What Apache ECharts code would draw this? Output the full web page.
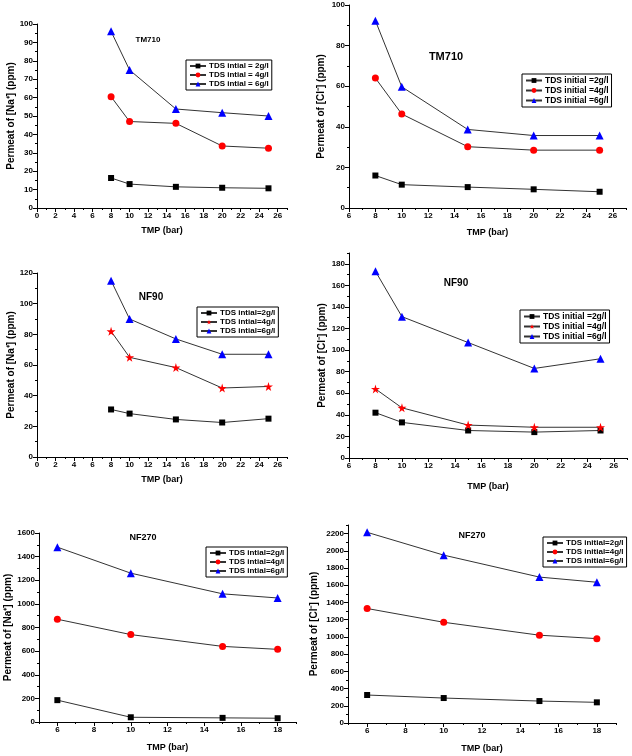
<!DOCTYPE html>
<html><head><meta charset="utf-8">
<script src="https://cdn.jsdelivr.net/npm/echarts@6/dist/echarts.min.js"></script>
<style>html,body{margin:0;padding:0;background:#fff}#c{width:632px;height:756px}</style>
</head><body><div id="c"></div>
<script>
// ---- data ----
const tmpA = [8, 10, 15, 20, 25];
const tmpB = [6, 10, 15, 18];

const tm710Na2 = [16.3, 13, 11.5, 11, 10.7];
const tm710Na4 = [60.5, 47, 46, 33.7, 32.5];
const tm710Na6 = [96, 75, 53.8, 51.8, 50];

const tm710Cl2 = [16, 11.5, 10.3, 9.2, 8];
const tm710Cl4 = [64, 46.3, 30.2, 28.5, 28.5];
const tm710Cl6 = [92.3, 59.7, 38.7, 35.7, 35.7];

const nf90Na2 = [31, 28.3, 24.5, 22.5, 25];
const nf90Na4 = [82, 65, 58.3, 45, 46];
const nf90Na6 = [115, 90, 77, 67, 67];

const nf90Cl2 = [42, 33, 25.5, 24, 25.5];
const nf90Cl4 = [64, 46.5, 30.5, 28.5, 28.5];
const nf90Cl6 = [173, 131, 107, 83, 92];

const nf270Na2 = [185, 40, 35, 32];
const nf270Na4 = [870, 740, 640, 615];
const nf270Na6 = [1480, 1260, 1085, 1050];

const nf270Cl2 = [325, 290, 255, 240];
const nf270Cl4 = [1330, 1170, 1020, 980];
const nf270Cl6 = [2215, 1950, 1695, 1635];

const legendA = ['TDS intial = 2g/l', 'TDS intial = 4g/l', 'TDS intial = 6g/l'];
const legendB = ['TDS initial =2g/l', 'TDS initial =4g/l', 'TDS initial =6g/l'];
const legendC = ['TDS intial=2g/l', 'TDS intial=4g/l', 'TDS intial=6g/l'];
const legendD = ['TDS initial =2g/l', 'TDS initial =4g/l', 'TDS initial =6g/l'];
const legendE = ['TDS intial=2g/l', 'TDS intial=4g/l', 'TDS intial=6g/l'];
const legendF = ['TDS initial=2g/l', 'TDS initial=4g/l', 'TDS initial=6g/l'];

const xTicksA = [0, 2, 4, 6, 8, 10, 12, 14, 16, 18, 20, 22, 24, 26];
const xTicksB = [6, 8, 10, 12, 14, 16, 18, 20, 22, 24, 26];
const xTicksC = [6, 8, 10, 12, 14, 16, 18];
const yTicks1 = [0, 10, 20, 30, 40, 50, 60, 70, 80, 90, 100];
const yTicks2 = [0, 20, 40, 60, 80, 100];
const yTicks3 = [0, 20, 40, 60, 80, 100, 120];
const yTicks4 = [0, 20, 40, 60, 80, 100, 120, 140, 160, 180];
const yTicks5 = [0, 200, 400, 600, 800, 1000, 1200, 1400, 1600];
const yTicks6 = [0, 200, 400, 600, 800, 1000, 1200, 1400, 1600, 1800, 2000, 2200];

const titles = ['TM710', 'TM710', 'NF90', 'NF90', 'NF270', 'NF270'];
const yNameNa = 'Permeat of [Na\u207A] (ppm)';
const yNameCl = 'Permeat of [Cl\u207B] (ppm)';
const xName = 'TMP (bar)';

// ---- layout ----
const FONT = 'Liberation Sans, Arial, sans-serif';
const STAR = 'path://M50,0 L61,35 L98,35 L68,57 L79,91 L50,70 L21,91 L32,57 L2,35 L39,35 Z';
function minors(ticks, step, max) {
  const out = [];
  for (let i = 0; i < ticks.length; i++) { const v = ticks[i] + step; if (v <= max) out.push(v); }
  return out;
}

const panels = [
  { grid: {left: 37, top: 24, width: 250, height: 184}, x: [0, 27], xt: xTicksA, xs: 1, y: [0, 100], yt: yTicks1, ys: 5,
    xs0: tmpA, sets: [tm710Na2, tm710Na4, tm710Na6], names: legendA, red: 'circle', yName: yNameNa, yGap: 21, xGap: 18,
    legend: {left: 186, top: 60, fs: 8}, title: {x: 148, y: 40, size: 8} },
  { grid: {left: 349, top: 5, width: 277, height: 203}, x: [6, 27], xt: xTicksB, xs: 1, y: [0, 100], yt: yTicks2, ys: 10,
    xs0: tmpA, sets: [tm710Cl2, tm710Cl4, tm710Cl6], names: legendB, red: 'circle', yName: yNameCl, yGap: 23, xGap: 20,
    legend: {left: 522, top: 74, fs: 8.5}, title: {x: 446, y: 57, size: 11} },
  { grid: {left: 37, top: 273, width: 250, height: 184}, x: [0, 27], xt: xTicksA, xs: 1, y: [0, 120], yt: yTicks3, ys: 10,
    xs0: tmpA, sets: [nf90Na2, nf90Na4, nf90Na6], names: legendC, red: STAR, yName: yNameNa, yGap: 20, xGap: 18,
    legend: {left: 197, top: 307, fs: 8}, title: {x: 151, y: 297, size: 10} },
  { grid: {left: 349, top: 253, width: 278, height: 205}, x: [6, 27], xt: xTicksB, xs: 1, y: [0, 190], yt: yTicks4, ys: 10,
    xs0: tmpA, sets: [nf90Cl2, nf90Cl4, nf90Cl6], names: legendD, red: STAR, yName: yNameCl, yGap: 22, xGap: 24,
    legend: {left: 520, top: 310, fs: 8.5}, title: {x: 456, y: 283, size: 10} },
  { grid: {left: 39, top: 533, width: 257, height: 189}, x: [5, 19], xt: xTicksC, xs: 1, y: [0, 1600], yt: yTicks5, ys: 100,
    xs0: tmpB, sets: [nf270Na2, nf270Na4, nf270Na6], names: legendE, red: 'circle', yName: yNameNa, yGap: 25, xGap: 21,
    legend: {left: 206, top: 547, fs: 8}, title: {x: 143, y: 538, size: 9} },
  { grid: {left: 348, top: 525, width: 268, height: 198}, x: [5, 19], xt: xTicksC, xs: 1, y: [0, 2300], yt: yTicks6, ys: 100,
    xs0: tmpB, sets: [nf270Cl2, nf270Cl4, nf270Cl6], names: legendF, red: 'circle', yName: yNameCl, yGap: 29, xGap: 21,
    legend: {left: 543, top: 537, fs: 8}, title: {x: 472, y: 536, size: 9} }
];

const grids = [], xAxes = [], yAxes = [], series = [], legends = [], graphics = [];
const labelStyle = {fontSize: 8, fontWeight: 'bold', color: '#000', fontFamily: FONT, margin: 4, formatter: v => String(v)};
const nameStyleX = {fontSize: 9, fontWeight: 'bold', color: '#000', fontFamily: FONT};
const nameStyleY = {fontSize: 10, fontWeight: 'bold', color: '#000', fontFamily: FONT};

panels.forEach((p, i) => {
  grids.push(Object.assign({containLabel: false}, p.grid));
  xAxes.push({type: 'value', gridIndex: i, min: p.x[0], max: p.x[1], position: 'bottom',
    name: xName, nameLocation: 'middle', nameGap: p.xGap, nameTextStyle: nameStyleX,
    axisLine: {show: true, lineStyle: {color: '#000', width: 1}},
    axisTick: {show: true, length: 4, customValues: p.xt, lineStyle: {color: '#000'}},
    axisLabel: Object.assign({customValues: p.xt}, labelStyle),
    splitLine: {show: false}});
  xAxes.push({type: 'value', gridIndex: i, min: p.x[0], max: p.x[1], position: 'bottom',
    axisLine: {show: false}, axisLabel: {show: false}, splitLine: {show: false},
    axisTick: {show: true, length: 2, customValues: minors([p.x[0] - p.xs].concat(p.xt), p.xs, p.x[1]).filter(v => v >= p.x[0] && p.xt.indexOf(v) < 0), lineStyle: {color: '#000'}}});
  yAxes.push({type: 'value', gridIndex: i, min: p.y[0], max: p.y[1], position: 'left',
    name: p.yName, nameLocation: 'middle', nameGap: p.yGap, nameTextStyle: nameStyleY,
    axisLine: {show: true, lineStyle: {color: '#000', width: 1}},
    axisTick: {show: true, length: 4, customValues: p.yt, lineStyle: {color: '#000'}},
    axisLabel: Object.assign({customValues: p.yt}, labelStyle),
    splitLine: {show: false}});
  yAxes.push({type: 'value', gridIndex: i, min: p.y[0], max: p.y[1], position: 'left',
    axisLine: {show: false}, axisLabel: {show: false}, splitLine: {show: false},
    axisTick: {show: true, length: 2, customValues: minors(p.yt, p.ys, p.y[1]).filter(v => p.yt.indexOf(v) < 0), lineStyle: {color: '#000'}}});

  const symbols = ['rect', p.red, 'triangle'];
  const sizes = [6, p.red === STAR ? 9 : 7, 8];
  const colors = ['#000000', '#ff0000', '#0000ff'];
  const sNames = [];
  p.sets.forEach((ys, k) => {
    const nm = 'P' + i + '|' + p.names[k];
    sNames.push(nm);
    series.push({type: 'line', name: nm, xAxisIndex: 2 * i, yAxisIndex: 2 * i,
      data: p.xs0.map((x, j) => [x, ys[j]]),
      symbol: symbols[k], symbolSize: sizes[k], showAllSymbol: true,
      itemStyle: {color: colors[k]}, lineStyle: {color: '#333', width: 1},
      animation: false, z: 3 + k});
  });
  legends.push({orient: 'vertical', left: p.legend.left, top: p.legend.top, data: sNames,
    formatter: n => n.split('|')[1], padding: [2, 3], itemGap: 1, itemWidth: 16, itemHeight: 6,
    borderColor: '#000', borderWidth: 1, selectedMode: false,
    textStyle: {fontSize: p.legend.fs, fontWeight: 'bold', color: '#000', fontFamily: FONT, padding: [0, 0, 0, -2]}});
  graphics.push({type: 'text', x: p.title.x, y: p.title.y,
    style: {text: titles[i], fill: '#000', font: 'bold ' + p.title.size + 'px ' + FONT, textAlign: 'center', textVerticalAlign: 'middle'}});
});

const chart = echarts.init(document.getElementById('c'), null, {renderer: 'canvas'});
chart.setOption({backgroundColor: '#fff', animation: false, grid: grids, xAxis: xAxes, yAxis: yAxes,
  series: series, legend: legends, graphic: graphics});
</script></body></html>
